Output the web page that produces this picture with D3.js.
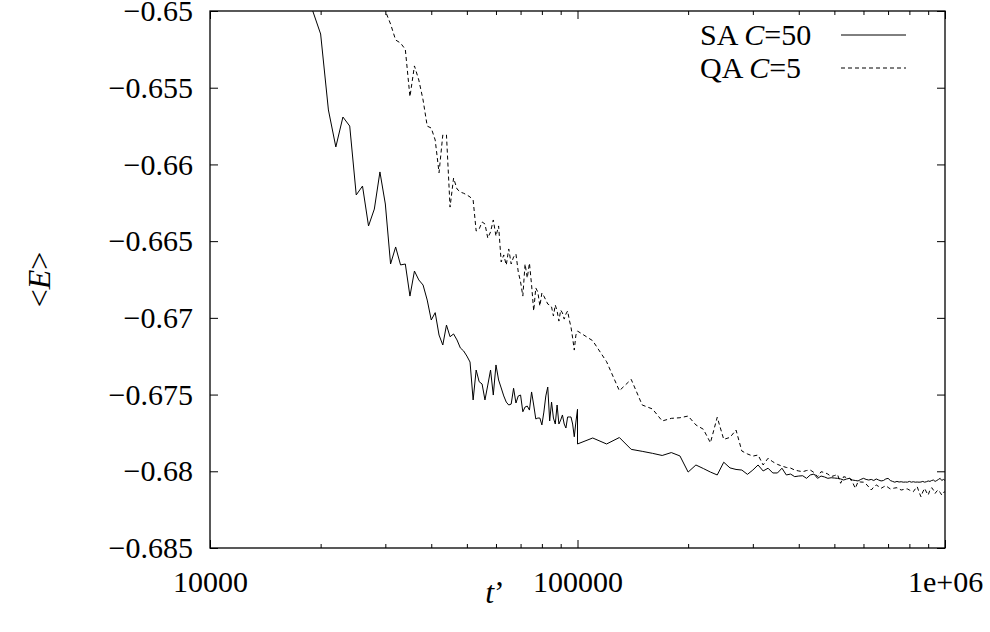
<!DOCTYPE html>
<html>
<head>
<meta charset="utf-8">
<script src="https://cdn.jsdelivr.net/npm/d3@7"></script>
<style>
  html, body { margin: 0; padding: 0; background: #fff; }
  svg { display: block; font-family: "Liberation Serif", "DejaVu Serif", "Times New Roman", serif; }
  svg text { font-family: "Liberation Serif", "DejaVu Serif", "Times New Roman", serif !important; fill: #000; }
</style>
</head>
<body>
<svg id="chart" width="990" height="632"></svg>
<script>
// ---------------- data ----------------
const saT = [18e3,19e3,20e3,21e3,22e3,23e3,24e3,25e3,26e3,27e3,28e3,29e3,30e3,31e3,32e3,33e3,34e3,35e3,36e3,37e3,38e3,39e3,
  40e3,41e3,42e3,43e3,44e3,45e3,46e3,47e3,48e3,49e3,50e3,51e3,52e3,53e3,54e3,55e3,56e3,57e3,58e3,59e3,
  60e3,61e3,62e3,63e3,64e3,65e3,66e3,67e3,68e3,69e3,70e3,71e3,72e3,73e3,74e3,75e3,76e3,77e3,78e3,79e3,
  80e3,81e3,82e3,83e3,84e3,85e3,86e3,87e3,88e3,89e3,90e3,91e3,92e3,93e3,94e3,95e3,96e3,97e3,98e3,99e3,100e3,
  100e3,110e3,120e3,130e3,140e3,150e3,160e3,170e3,180e3,190e3,200e3,210e3,220e3,230e3,240e3,250e3,260e3,270e3,280e3,290e3,
  300e3,310e3,320e3,330e3,340e3,350e3,360e3,370e3,380e3,390e3,400e3,410e3,420e3,430e3,440e3,450e3,460e3,470e3,480e3,490e3,
  500e3,510e3,520e3,530e3,540e3,550e3,560e3,570e3,580e3,590e3,600e3,610e3,620e3,630e3,640e3,650e3,660e3,670e3,680e3,690e3,
  700e3,710e3,720e3,730e3,740e3,750e3,760e3,770e3,780e3,790e3,800e3,810e3,820e3,830e3,840e3,850e3,860e3,870e3,880e3,890e3,
  900e3,910e3,920e3,930e3,940e3,950e3,960e3,970e3,980e3,990e3,1000e3];
const saE = [-0.64831,-0.64994,-0.65150,-0.65645,-0.65886,-0.65691,-0.65750,-0.66199,-0.66141,-0.66401,-0.66291,-0.66049,-0.66258,-0.66649,-0.66538,-0.66655,-0.66649,-0.66858,-0.66695,-0.66753,-0.66786,-0.66884,
  -0.67014,-0.66966,-0.67112,-0.67177,-0.67047,-0.67123,-0.67105,-0.67144,-0.67196,-0.67216,-0.67249,-0.67288,-0.67535,-0.67340,-0.67416,-0.67431,-0.67535,-0.67438,-0.67340,-0.67503,
  -0.67307,-0.67405,-0.67457,-0.67509,-0.67549,-0.67568,-0.67562,-0.67459,-0.67555,-0.67509,-0.67503,-0.67612,-0.67581,-0.67575,-0.67601,-0.67483,-0.67568,-0.67659,-0.67653,-0.67653,
  -0.67698,-0.67614,-0.67509,-0.67451,-0.67672,-0.67549,-0.67653,-0.67692,-0.67568,-0.67692,-0.67666,-0.67633,-0.67692,-0.67718,-0.67646,-0.67646,-0.67646,-0.67692,-0.67775,-0.67679,-0.67596,
  -0.67822,-0.67783,-0.67822,-0.67780,-0.67857,-0.67870,-0.67883,-0.67897,-0.67878,-0.67900,-0.68005,-0.67959,-0.67982,-0.68005,-0.68024,-0.67941,-0.67978,-0.67988,-0.67992,-0.68020,
  -0.67992,-0.67959,-0.67998,-0.67980,-0.68011,-0.68011,-0.67980,-0.68024,-0.68018,-0.68035,-0.68031,-0.68029,-0.68046,-0.68024,-0.68018,-0.68046,-0.68031,-0.68037,-0.68046,-0.68042,
  -0.68044,-0.68046,-0.68050,-0.68057,-0.68050,-0.68046,-0.68057,-0.68060,-0.68063,-0.68053,-0.68046,-0.68053,-0.68057,-0.68053,-0.68060,-0.68050,-0.68057,-0.68063,-0.68060,-0.68050,
  -0.68046,-0.68060,-0.68066,-0.68071,-0.68066,-0.68070,-0.68068,-0.68071,-0.68070,-0.68071,-0.68066,-0.68071,-0.68068,-0.68071,-0.68070,-0.68071,-0.68070,-0.68066,-0.68071,-0.68068,
  -0.68063,-0.68066,-0.68060,-0.68057,-0.68066,-0.68060,-0.68053,-0.68046,-0.68060,-0.68053,-0.68060];

const qaT = [29e3,30e3,31e3,32e3,33e3,34e3,35e3,36e3,37e3,38e3,39e3,
  40e3,41e3,42e3,43e3,44e3,45e3,46e3,47e3,48e3,49e3,50e3,51e3,52e3,53e3,54e3,55e3,56e3,57e3,58e3,59e3,
  60e3,61e3,62e3,63e3,64e3,65e3,66e3,67e3,68e3,69e3,70e3,71e3,72e3,73e3,74e3,75e3,76e3,77e3,78e3,79e3,
  80e3,81e3,82e3,83e3,84e3,85e3,86e3,87e3,88e3,89e3,90e3,91e3,92e3,93e3,94e3,95e3,96e3,97e3,98e3,99e3,100e3,
  110e3,120e3,130e3,140e3,150e3,160e3,170e3,180e3,190e3,200e3,210e3,220e3,230e3,240e3,250e3,260e3,270e3,280e3,290e3,
  300e3,310e3,320e3,330e3,340e3,350e3,360e3,370e3,380e3,390e3,400e3,410e3,420e3,430e3,440e3,450e3,460e3,470e3,480e3,490e3,
  500e3,510e3,520e3,530e3,540e3,550e3,560e3,570e3,580e3,590e3,600e3,610e3,620e3,630e3,640e3,650e3,660e3,670e3,680e3,690e3,
  700e3,710e3,720e3,730e3,740e3,750e3,760e3,770e3,780e3,790e3,800e3,810e3,820e3,830e3,840e3,850e3,860e3,870e3,880e3,890e3,
  900e3,910e3,920e3,930e3,940e3,950e3,960e3,970e3,980e3,990e3,1000e3];
const qaE = [-0.64889,-0.65000,-0.65085,-0.65189,-0.65209,-0.65250,-0.65559,-0.65358,-0.65450,-0.65580,-0.65750,
  -0.65763,-0.65841,-0.66054,-0.65808,-0.65808,-0.66278,-0.66089,-0.66160,-0.66180,-0.66188,-0.66199,-0.66212,-0.66232,-0.66434,-0.66421,-0.66375,-0.66388,-0.66480,-0.66440,-0.66362,
  -0.66467,-0.66401,-0.66636,-0.66590,-0.66656,-0.66551,-0.66649,-0.66603,-0.66584,-0.66701,-0.66766,-0.66858,-0.66649,-0.66740,-0.66643,-0.66786,-0.66955,-0.66805,-0.66832,-0.66923,
  -0.66838,-0.66858,-0.66884,-0.66910,-0.66916,-0.66929,-0.66988,-0.66916,-0.66955,-0.67021,-0.66949,-0.66968,-0.67008,-0.66975,-0.66955,-0.67014,-0.67060,-0.67131,-0.67210,-0.67112,-0.67086,
  -0.67149,-0.67286,-0.67475,-0.67401,-0.67568,-0.67594,-0.67672,-0.67655,-0.67651,-0.67640,-0.67698,-0.67726,-0.67814,-0.67648,-0.67792,-0.67779,-0.67731,-0.67868,-0.67887,
  -0.67901,-0.67894,-0.67959,-0.67915,-0.67938,-0.67955,-0.67966,-0.67975,-0.67979,-0.67992,-0.67998,-0.68003,-0.67995,-0.67992,-0.68008,-0.68035,-0.68003,-0.68008,-0.68018,-0.68035,
  -0.68028,-0.68021,-0.68078,-0.68035,-0.68041,-0.68046,-0.68070,-0.68111,-0.68068,-0.68070,-0.68071,-0.68083,-0.68102,-0.68122,-0.68102,-0.68089,-0.68099,-0.68111,-0.68102,-0.68094,
  -0.68105,-0.68115,-0.68112,-0.68109,-0.68107,-0.68115,-0.68122,-0.68119,-0.68115,-0.68115,-0.68122,-0.68129,-0.68133,-0.68115,-0.68100,-0.68135,-0.68166,-0.68135,-0.68111,-0.68135,
  -0.68155,-0.68122,-0.68107,-0.68122,-0.68144,-0.68129,-0.68122,-0.68138,-0.68155,-0.68138,-0.68133];

const seriesNames = ["SA", "QA"];
const seriesC = ["50", "5"];
const xTicks = [1e4, 1e5, 1e6];
const xTickLabels = ["10000", "100000", "1e+06"];
const xMinorTicks = [2e4,3e4,4e4,5e4,6e4,7e4,8e4,9e4,2e5,3e5,4e5,5e5,6e5,7e5,8e5,9e5];
const yTicks = [-0.685, -0.68, -0.675, -0.67, -0.665, -0.66, -0.655, -0.65];
const yTickLabels = ["\u22120.685", "\u22120.68", "\u22120.675", "\u22120.67", "\u22120.665", "\u22120.66", "\u22120.655", "\u22120.65"];

// ---------------- layout ----------------
const W = 990, H = 632;
const m = { left: 210, right: 45, top: 11, bottom: 84 };
const pw = W - m.left - m.right, ph = H - m.top - m.bottom;
const FS = 30;
const FONT = '"Liberation Serif", "DejaVu Serif", "Times New Roman", serif';

const svg = d3.select("#chart");
const x = d3.scaleLog().domain([1e4, 1e6]).range([m.left, m.left + pw]);
const y = d3.scaleLinear().domain([-0.685, -0.65]).range([m.top + ph, m.top]);

svg.append("defs").append("clipPath").attr("id", "clip")
  .append("rect").attr("x", m.left).attr("y", m.top).attr("width", pw).attr("height", ph);

function styleAxis(g) {
  g.attr("font-family", FONT).attr("font-size", FS);
  g.select(".domain").remove();
  g.selectAll(".tick line").attr("stroke", "#000").attr("stroke-width", 1);
  g.selectAll(".tick text").style("font-size", FS + "px").style("font-family", FONT).attr("fill", "#000");
}

// bottom major
const xMajorFmt = (d) => xTickLabels[xTicks.indexOf(d)];
svg.append("g").attr("transform", `translate(0,${m.top + ph})`)
  .call(d3.axisBottom(x).tickValues(xTicks).tickFormat(xMajorFmt).tickSize(-8).tickPadding(22.5))
  .call(styleAxis);
svg.append("g").attr("transform", `translate(0,${m.top + ph})`)
  .call(d3.axisBottom(x).tickValues(xMinorTicks).tickFormat("").tickSize(-4))
  .call(styleAxis);
// top mirror
svg.append("g").attr("transform", `translate(0,${m.top})`)
  .call(d3.axisTop(x).tickValues(xTicks).tickFormat("").tickSize(-8))
  .call(styleAxis);
svg.append("g").attr("transform", `translate(0,${m.top})`)
  .call(d3.axisTop(x).tickValues(xMinorTicks).tickFormat("").tickSize(-4))
  .call(styleAxis);
// left
const yFmt = (d) => yTickLabels[yTicks.indexOf(d)];
svg.append("g").attr("transform", `translate(${m.left},0)`)
  .call(d3.axisLeft(y).tickValues(yTicks).tickFormat(yFmt).tickSize(-8).tickPadding(17))
  .call(styleAxis);
// right mirror
svg.append("g").attr("transform", `translate(${m.left + pw},0)`)
  .call(d3.axisRight(y).tickValues(yTicks).tickFormat("").tickSize(-8))
  .call(styleAxis);

// frame
svg.append("rect").attr("x", m.left).attr("y", m.top).attr("width", pw).attr("height", ph)
  .attr("fill", "none").attr("stroke", "#000").attr("stroke-width", 1.3);

// lines
const line = d3.line().x(d => x(d[0])).y(d => y(d[1]));
const saData = saT.map((t, i) => [t, saE[i]]);
const qaData = qaT.map((t, i) => [t, qaE[i]]);
const plot = svg.append("g").attr("clip-path", "url(#clip)");
plot.append("path").datum(saData).attr("d", line)
  .attr("fill", "none").attr("stroke", "#000").attr("stroke-width", 1);
plot.append("path").datum(qaData).attr("d", line)
  .attr("fill", "none").attr("stroke", "#000").attr("stroke-width", 1).attr("stroke-dasharray", "4,3");

// legend
const legend = svg.append("g");
const legY = [45, 78];
const lineY = [35, 68];
seriesNames.forEach((name, i) => {
  const t = legend.append("text").attr("x", 700).attr("y", legY[i])
    .style("font-size", FS + "px").style("font-family", FONT);
  t.append("tspan").text(name + " ");
  t.append("tspan").style("font-style", "italic").text("C");
  t.append("tspan").text("=" + seriesC[i]);
  legend.append("line").attr("x1", 841).attr("x2", 906).attr("y1", lineY[i]).attr("y2", lineY[i])
    .attr("stroke", "#000").attr("stroke-width", 1)
    .attr("stroke-dasharray", i === 1 ? "4,3" : null);
});

// axis titles
const xt = svg.append("text").attr("x", 495).attr("y", 603)
  .attr("text-anchor", "middle").style("font-size", "32px").style("font-family", FONT);
xt.append("tspan").style("font-style", "italic").text("t");
xt.append("tspan").text("\u2019");

const yt = svg.append("text").attr("transform", `translate(50,${m.top + ph / 2}) rotate(-90)`)
  .attr("text-anchor", "middle").style("font-size", "32px").style("font-family", FONT);
yt.append("tspan").text("<");
yt.append("tspan").style("font-style", "italic").text("E");
yt.append("tspan").text(">");
</script>
</body>
</html>
